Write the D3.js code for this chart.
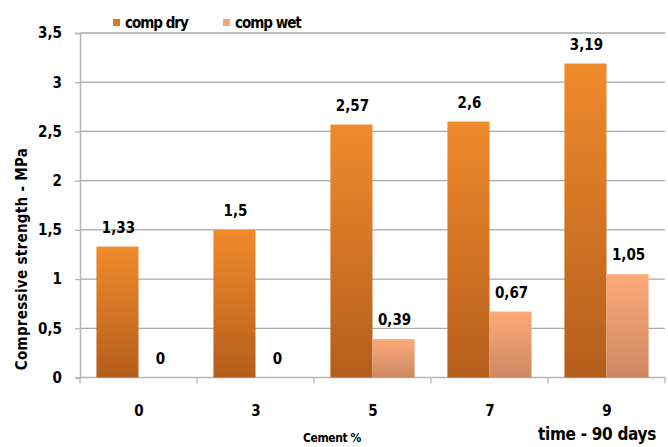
<!DOCTYPE html>
<html>
<head>
<meta charset="utf-8">
<script src="https://cdn.jsdelivr.net/npm/d3@7"></script>
<style>
  html, body { margin: 0; padding: 0; background: #fff; }
  svg { display: block; }
  text { font-family: "Liberation Sans Narrow", "DejaVu Sans Condensed", "Liberation Sans", sans-serif; font-weight: bold; fill: #000; }
</style>
</head>
<body>
<svg id="chart" width="668" height="447"></svg>
<script>
// Cement content (%) on the x axis
const categories = ["0", "3", "5", "7", "9"];
// Compressive strength after 90 days, MPa
const compDry = [1.33, 1.5, 2.57, 2.6, 3.19];
const compWet = [0, 0, 0.39, 0.67, 1.05];
const seriesNames = ["comp dry", "comp wet"];
const yTicks = [0, 0.5, 1, 1.5, 2, 2.5, 3, 3.5];

const svg = d3.select("#chart");
const plot = { left: 80, right: 665, top: 33, bottom: 377.5 };

const fmt = v => String(v).replace(".", ",");

// gradients for the bars
const defs = svg.append("defs");
function grad(id, top, bottom) {
  const g = defs.append("linearGradient").attr("id", id)
    .attr("x1", 0).attr("y1", 0).attr("x2", 0).attr("y2", 1);
  g.append("stop").attr("offset", "0%").attr("stop-color", top);
  g.append("stop").attr("offset", "100%").attr("stop-color", bottom);
}
grad("gDry", "#f08b2c", "#b45e1c");
grad("gWet", "#fdaa7a", "#cd8862");

const x = d3.scaleBand().domain(categories).range([plot.left, plot.right]).paddingInner(0).paddingOuter(0);
const x1 = d3.scaleBand().domain(seriesNames).range([0, x.bandwidth()]).paddingOuter(0.39).paddingInner(0);
const y = d3.scaleLinear().domain([0, 3.5]).range([plot.bottom, plot.top]);

// horizontal gridlines
svg.append("g").selectAll("line").data(yTicks.filter(t => t > 0)).join("line")
  .attr("x1", plot.left).attr("x2", plot.right)
  .attr("y1", d => y(d)).attr("y2", d => y(d))
  .attr("stroke", "#a9a9a9").attr("stroke-width", 1.3);

// y axis
const yAxis = svg.append("g").attr("transform", `translate(${plot.left},0)`)
  .call(d3.axisLeft(y).tickValues(yTicks).tickFormat(fmt).tickSize(5).tickPadding(13));
yAxis.select(".domain").attr("stroke", "#b5b5b5").attr("stroke-width", 1.5);
yAxis.selectAll(".tick line").attr("stroke", "#b5b5b5").attr("stroke-width", 1.3);
yAxis.selectAll(".tick text").attr("font-size", 15).attr("font-family", null).attr("fill", "#000");

// x axis with ticks between categories
const xAxisG = svg.append("g").attr("transform", `translate(0,${plot.bottom})`);
xAxisG.append("line").attr("x1", plot.left).attr("x2", plot.right)
  .attr("y1", 0).attr("y2", 0).attr("stroke", "#b5b5b5").attr("stroke-width", 1.5);
const boundaries = categories.map(c => x(c)).concat([x(categories[categories.length - 1]) + x.bandwidth()]);
xAxisG.selectAll(".bt").data(boundaries).join("line").attr("class", "bt")
  .attr("x1", d => d).attr("x2", d => d).attr("y1", 0).attr("y2", 6)
  .attr("stroke", "#b5b5b5").attr("stroke-width", 1.3);
xAxisG.selectAll(".cl").data(categories).join("text").attr("class", "cl")
  .attr("x", d => x(d) + x.bandwidth() / 2 + 0.5).attr("y", 38)
  .attr("text-anchor", "middle").attr("font-size", 15).text(d => d);

// bars
const rows = categories.map((c, i) => ({ c, vals: [
  { s: seriesNames[0], v: compDry[i], fill: "url(#gDry)" },
  { s: seriesNames[1], v: compWet[i], fill: "url(#gWet)" }
]}));

const groups = svg.append("g").selectAll("g").data(rows).join("g")
  .attr("transform", d => `translate(${x(d.c)},0)`);
groups.selectAll("rect").data(d => d.vals).join("rect")
  .attr("x", d => x1(d.s)).attr("width", x1.bandwidth())
  .attr("y", d => y(d.v)).attr("height", d => y(0) - y(d.v))
  .attr("fill", d => d.fill);
groups.selectAll("text").data(d => d.vals).join("text")
  .attr("x", d => x1(d.s) + x1.bandwidth() / 2 + 1)
  .attr("y", d => y(d.v) - 14)
  .attr("text-anchor", "middle").attr("font-size", 15)
  .text(d => fmt(d.v));

// legend
const legend = svg.append("g").attr("transform", "translate(113,19)");
const legItems = [
  { name: seriesNames[0], color: "#de7622", x: 0 },
  { name: seriesNames[1], color: "#f4a377", x: 110 }
];
legItems.forEach(it => {
  legend.append("rect").attr("x", it.x).attr("y", 0).attr("width", 7).attr("height", 7).attr("fill", it.color);
  legend.append("text").attr("x", it.x + 12).attr("y", 9).attr("font-size", 15)
    .attr("letter-spacing", -1).text(it.name);
});

// y-axis title
svg.append("text").attr("transform", "translate(27,259) rotate(-90)")
  .attr("text-anchor", "middle").attr("font-size", 15).attr("letter-spacing", 0.3)
  .text("Compressive strength - MPa");

// x-axis title and note
svg.append("text").attr("x", 332).attr("y", 442).attr("text-anchor", "middle")
  .attr("font-size", 12).attr("letter-spacing", -0.4).text("Cement %");
svg.append("text").attr("x", 597).attr("y", 440).attr("text-anchor", "middle")
  .attr("font-size", 17).attr("letter-spacing", -0.3).text("time - 90 days");
</script>
</body>
</html>
